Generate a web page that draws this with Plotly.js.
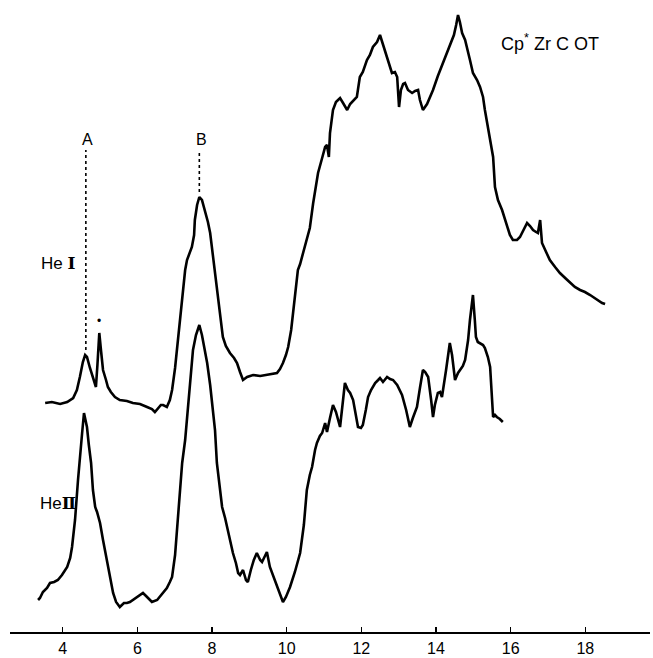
<!DOCTYPE html>
<html>
<head>
<meta charset="utf-8">
<script src="https://cdn.plot.ly/plotly-3.0.1.min.js"></script>
<style>
  html, body { margin: 0; padding: 0; background: #ffffff; }
  #chart { width: 653px; height: 658px; }
</style>
</head>
<body>
<div id="chart"></div>
<script>
// Photoelectron spectra of Cp*Zr COT, He I and He II excitation.
// Ionisation energies in eV, intensities in arbitrary units.

const heI_eV = [3.53, 3.71, 3.93, 4.12, 4.28, 4.38, 4.46, 4.54, 4.60, 4.65, 4.73, 4.81, 4.89, 4.93, 4.98, 5.03,
  5.08, 5.16, 5.21, 5.29, 5.40, 5.53, 5.72, 5.88, 6.07, 6.26, 6.39, 6.47, 6.55, 6.63, 6.69, 6.79, 6.87, 6.93,
  7.01, 7.06, 7.14, 7.20, 7.28, 7.33, 7.41, 7.46, 7.52, 7.54, 7.60, 7.66, 7.73, 7.81, 7.89, 7.95, 8.03, 8.08,
  8.16, 8.21, 8.29, 8.37, 8.48, 8.59, 8.67, 8.75, 8.83, 8.94, 9.10, 9.29, 9.47, 9.63, 9.74, 9.82, 9.90, 9.98,
  10.04, 10.12, 10.17, 10.25, 10.30, 10.36, 10.41, 10.49, 10.54, 10.62, 10.71, 10.79, 10.84, 10.95, 11.03,
  11.08, 11.13, 11.16, 11.24, 11.32, 11.43, 11.51, 11.62, 11.70, 11.80, 11.88, 11.96, 12.04, 12.15, 12.23,
  12.31, 12.42, 12.50, 12.58, 12.69, 12.77, 12.82, 12.90, 12.96, 13.01, 13.06, 13.12, 13.17, 13.25, 13.36,
  13.44, 13.52, 13.57, 13.65, 13.76, 13.84, 13.92, 14.05, 14.19, 14.29, 14.37, 14.48, 14.54, 14.59, 14.64,
  14.70, 14.78, 14.83, 14.91, 14.99, 15.10, 15.18, 15.26, 15.31, 15.39, 15.45, 15.53, 15.58, 15.66, 15.77,
  15.85, 15.90, 15.98, 16.06, 16.17, 16.25, 16.36, 16.44, 16.52, 16.60, 16.68, 16.73, 16.79, 16.84, 16.95,
  17.05, 17.19, 17.32, 17.46, 17.59, 17.72, 17.86, 17.99, 18.13, 18.29, 18.45, 18.53];
const heI_int = [4, 5, 3, 5, 9, 17, 30, 45, 52, 50, 39, 29, 20, 42, 74, 55,
  37, 27, 20, 15, 10, 7, 6, 4, 3, 0, -2, -5, -2, 2, 2, 0, 7, 17,
  39, 57, 92, 114, 137, 147, 155, 160, 172, 187, 202, 210, 207, 197, 185, 174, 150, 135,
  114, 95, 70, 61, 54, 49, 44, 35, 27, 30, 32, 31, 32, 33, 34, 38, 44, 52,
  60, 77, 94, 122, 137, 143, 150, 159, 167, 179, 204, 222, 234, 249, 260,
  262, 250, 274, 297, 305, 309, 304, 297, 303, 307, 310, 330, 335, 347, 352,
  360, 365, 372, 362, 350, 340, 334, 335, 330, 300, 317, 323, 324, 317, 314,
  316, 317, 307, 297, 303, 310, 317, 331, 344, 353, 360, 372, 382, 392, 385,
  374, 367, 360, 347, 334, 327, 320, 310, 297, 279, 264, 250, 220, 207, 197,
  187, 180, 172, 167, 167, 170, 179, 184, 181, 177, 175, 174, 187, 164, 155,
  147, 140, 134, 129, 124, 120, 117, 115, 112, 108, 104, 103];

const heII_eV = [3.34, 3.39, 3.47, 3.58, 3.66, 3.77, 3.87, 3.98, 4.12, 4.20, 4.25, 4.33, 4.41, 4.46, 4.52, 4.57,
  4.62, 4.65, 4.70, 4.76, 4.81, 4.87, 4.92, 5.00, 5.08, 5.19, 5.27, 5.35, 5.43, 5.53, 5.64, 5.72, 5.80, 5.88,
  6.02, 6.15, 6.26, 6.39, 6.53, 6.69, 6.79, 6.87, 6.93, 7.01, 7.06, 7.14, 7.20, 7.28, 7.33, 7.41, 7.49, 7.57,
  7.66, 7.73, 7.81, 7.87, 7.95, 8.00, 8.08, 8.13, 8.21, 8.27, 8.35, 8.40, 8.48, 8.56, 8.64, 8.70, 8.75, 8.83,
  8.91, 8.96, 9.04, 9.12, 9.20, 9.29, 9.34, 9.42, 9.47, 9.55, 9.66, 9.74, 9.82, 9.90, 9.98, 10.09, 10.22,
  10.36, 10.46, 10.54, 10.62, 10.68, 10.76, 10.81, 10.89, 10.95, 11.03, 11.08, 11.16, 11.24, 11.32, 11.43,
  11.51, 11.56, 11.64, 11.70, 11.78, 11.86, 11.91, 11.99, 12.04, 12.12, 12.18, 12.26, 12.37, 12.45, 12.50,
  12.58, 12.69, 12.77, 12.85, 12.96, 13.09, 13.20, 13.30, 13.38, 13.49, 13.57, 13.65, 13.71, 13.79, 13.87,
  13.92, 13.97, 14.05, 14.11, 14.16, 14.27, 14.37, 14.43, 14.51, 14.59, 14.64, 14.72, 14.78, 14.86, 14.91,
  14.96, 14.99, 15.04, 15.07, 15.12, 15.18, 15.26, 15.31, 15.39, 15.45, 15.50, 15.53, 15.58, 15.63, 15.71, 15.79];
const heII_int = [12, 14, 20, 24, 29, 30, 32, 37, 45, 54, 65, 92, 132, 157, 179, 199,
  192, 185, 167, 149, 122, 105, 100, 89, 72, 49, 32, 19, 10, 5, 9, 9, 10, 12,
  15, 19, 15, 10, 12, 19, 24, 30, 35, 57, 82, 117, 149, 172, 192, 229, 262, 277,
  287, 277, 262, 249, 227, 209, 182, 149, 122, 105, 94, 85, 72, 59, 49, 39, 37, 42,
  32, 30, 42, 52, 59, 52, 50, 57, 60, 45, 34, 25, 17, 10, 15, 25, 40,
  59, 87, 122, 137, 145, 162, 169, 176, 179, 189, 180, 194, 207, 200, 185,
  212, 229, 222, 219, 212, 197, 185, 184, 187, 202, 215, 222, 229, 232, 234,
  230, 235, 233, 232, 227, 217, 202, 185, 194, 205, 224, 242, 240, 235, 212,
  195, 207, 219, 220, 215, 242, 269, 257, 232, 239, 242, 246, 252, 272, 292,
  307, 317, 292, 275, 270, 269, 267, 264, 255, 245, 217, 195, 197, 195, 193, 190];

const tickValues = [4, 6, 8, 10, 12, 14, 16, 18];
const tickLabels = ["4", "6", "8", "10", "12", "14", "16", "18"];

// Band positions marked on the He I trace
const bandNames = ["A", "B"];
const bandEnergies = [4.62, 7.66];

// vertical stacking of the two traces
const HEII_BASE = 20;
const HEI_BASE = 225;

const FONT = "Liberation Sans, Arial, Helvetica, sans-serif";
const NUMERAL = "font-family:'DejaVu Serif',serif;font-weight:bold";

function shifted(values, base) { return values.map(v => v + base); }

const heI_y = shifted(heI_int, HEI_BASE);
const heII_y = shifted(heII_int, HEII_BASE);

function peakNear(xs, ys, e) {
  let best = 0, bd = Infinity;
  xs.forEach((x, i) => { const d = Math.abs(x - e); if (d < bd) { bd = d; best = i; } });
  return ys[best];
}

const traces = [
  { x: heI_eV, y: heI_y, mode: "lines", name: "He I",
    line: { color: "#000000", width: 2.6 }, hoverinfo: "skip" },
  { x: heII_eV, y: heII_y, mode: "lines", name: "He II",
    line: { color: "#000000", width: 2.6 }, hoverinfo: "skip" }
];

const LABEL_Y = 493;
const shapes = bandEnergies.map(e => ({
  type: "line", xref: "x", yref: "y",
  x0: e, x1: e, y0: peakNear(heI_eV, heI_y, e) + 5, y1: LABEL_Y - 11,
  line: { color: "#000000", width: 1.6, dash: "dot" }
}));

const annotations = bandNames.map((n, i) => ({
  x: bandEnergies[i] + 0.05, y: LABEL_Y, xref: "x", yref: "y", text: n, showarrow: false,
  font: { family: FONT, size: 16, color: "#000000" }
}));

annotations.push(
  { x: 4.98, y: peakNear(heI_eV, heI_y, 4.98) + 12, xref: "x", yref: "y", text: "•", showarrow: false,
    font: { family: FONT, size: 12, color: "#000000" } },
  { x: 3.88, y: 369, xref: "x", yref: "y", showarrow: false,
    text: "He <span style=\"" + NUMERAL + "\">I</span>",
    font: { family: FONT, size: 17, color: "#000000" } },
  { x: 3.88, y: 129, xref: "x", yref: "y", showarrow: false,
    text: "He<span style=\"" + NUMERAL + "\">\u2161</span>",
    font: { family: FONT, size: 17, color: "#000000" } },
  { x: 17.05, y: 590, xref: "x", yref: "y", text: "Cp<sup>*</sup> Zr C OT", showarrow: false,
    font: { family: FONT, size: 18, color: "#000000" } },
  { x: 19.28, y: -14, xref: "x", yref: "y", text: "eV", showarrow: false,
    font: { family: FONT, size: 16, color: "#000000" } }
);

const layout = {
  width: 653, height: 658,
  margin: { l: 10, r: 3, t: 0, b: 26 },
  paper_bgcolor: "#ffffff", plot_bgcolor: "#ffffff",
  showlegend: false,
  xaxis: {
    range: [2.588, 19.733], fixedrange: true,
    showgrid: false, zeroline: false,
    showline: true, linecolor: "#000000", linewidth: 2,
    ticks: "inside", ticklen: 5, tickwidth: 1.5, tickcolor: "#000000",
    tickvals: tickValues, ticktext: tickLabels,
    ticklabelstandoff: 1,
    tickfont: { family: FONT, size: 16, color: "#000000" }
  },
  yaxis: { range: [0, 632], visible: false, fixedrange: true, showgrid: false, zeroline: false },
  shapes: shapes,
  annotations: annotations
};

Plotly.newPlot("chart", traces, layout, { staticPlot: true, displayModeBar: false });
</script>
</body>
</html>
